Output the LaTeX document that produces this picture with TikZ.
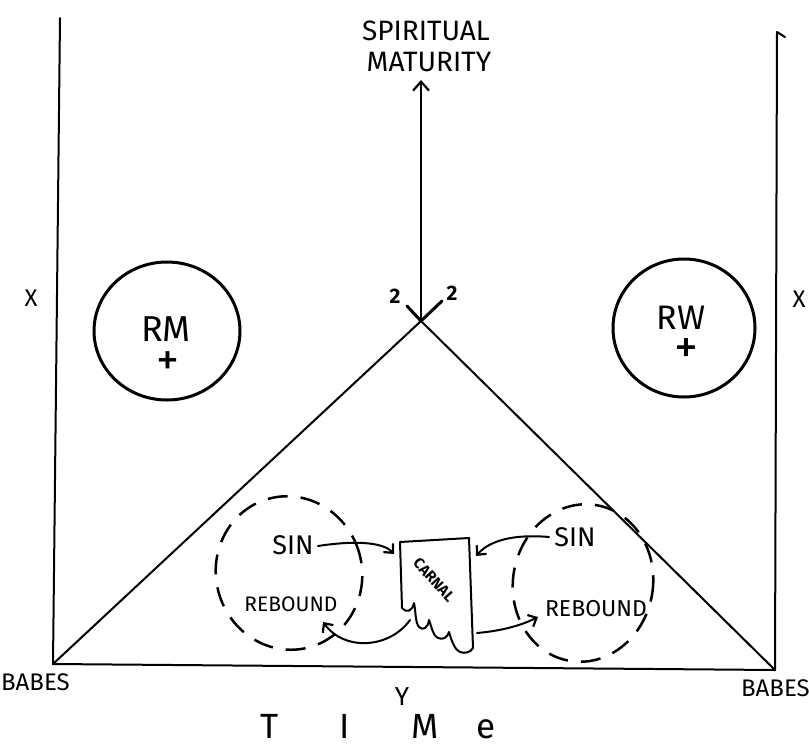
\documentclass[tikz,border=0pt]{standalone}
\usepackage{fontspec}
\setmainfont{Fira Sans}
\usetikzlibrary{arrows.meta,shapes.geometric}
\newcommand{\fs}[1]{\fontsize{#1}{#1}\selectfont}
\begin{document}
\begin{tikzpicture}[x=1pt,y=-1pt,
  ink/.style={line width=2pt,black,line cap=round,line join=round},
  heavyink/.style={line width=3pt,black,line cap=round,line join=round},
  ring/.style={draw,ellipse,line width=3pt,inner sep=0pt},
  dashring/.style={draw,ellipse,line width=2.5pt,inner sep=0pt,dash pattern=on 20pt off 13pt},
  tip/.style={-{Straight Barb[length=7pt,width=13pt,line width=2.2pt]}},
  lbl/.style={inner sep=0pt,text=black}
]
\useasboundingbox (0,0) rectangle (809,750);
\clip (0,0) rectangle (809,750);
\fill[white] (0,0) rectangle (809,750);

% frame verticals
\coordinate (lt) at (60,18);
\coordinate (lb) at (53,664);
\coordinate (rt) at (777,32);
\coordinate (rf) at (785,37);
\coordinate (rb) at (775,670);
\draw[ink] (lt) -- (lb);
\draw[ink] (rf) -- (rt) -- (rb);

% triangle
\coordinate (apex) at (421,321);
\draw[ink] (lb) -- (apex) -- (rb);
\draw[ink] (lb) -- (rb);

% vertical arrow
\coordinate (top) at (421,80);
\draw[ink,-{Straight Barb[length=9pt,width=16pt,line width=2.2pt]}] (apex) -- (top);
\node[lbl,font=\fs{28}] (spir) at (426,31) {SPIRITUAL};
\node[lbl,font=\fs{28}] (mat) at (429,62) {MATURITY};

% ticks at apex
\coordinate (tl) at (407,306);
\coordinate (tr) at (442,301);
\draw[heavyink] (tl) -- (apex) -- (tr);
\node[lbl,font=\bfseries\fs{21}] (twol) at (395,296) {2};
\node[lbl,font=\bfseries\fs{21}] (twor) at (452,293) {2};

% X labels
\node[lbl,font=\fs{24}] (xl) at (31,298) {X};
\node[lbl,font=\fs{24}] (xr) at (799,299) {X};

% RM / RW circles
\node[ring,minimum width=146pt,minimum height=138pt] (rm) at (167,331) {};
\node[lbl,font=\fs{36}] (rmt) at (166,329) {RM};
\node[lbl,font=\fs{46}] (rmp) at (168,364) {+};
\node[ring,minimum width=142pt,minimum height=138pt] (rw) at (684,328) {};
\node[lbl,font=\fs{34}] (rwt) at (681,318) {RW};
\node[lbl,font=\fs{48}] (rwp) at (686,351) {+};

% dashed rings
\node[dashring,minimum width=146pt,minimum height=154pt,rotate=15] (dl) at (289,573) {};
\node[dashring,minimum width=140pt,minimum height=158pt,rotate=-10] (dr) at (583,583) {};

% texts in rings
\node[lbl,font=\fs{27}] (sinl) at (293,545) {SIN};
\node[lbl,font=\fs{21}] (rebl) at (291,604) {REBOUND};
\node[lbl,font=\fs{27}] (sinr) at (575,537) {SIN};
\node[lbl,font=\fs{23}] (rebr) at (596,609) {REBOUND};

% carnal box
\draw[ink] (402,608)
  .. controls (406,613) and (412,612) .. (414,603)
  .. controls (416,612) and (415,622) .. (419,627)
  .. controls (423,631) and (428,628) .. (429,620)
  .. controls (432,628) and (433,636) .. (438,638)
  .. controls (443,640) and (447,638) .. (449,632)
  .. controls (452,642) and (455,650) .. (460,652)
  .. controls (465,654) and (471,652) .. (473,648)
  -- (469,538) -- (400,542) -- cycle;
\node[lbl,font=\bfseries\fs{15},rotate=-48] (carnal) at (434,580) {CARNAL};

% arrows
\coordinate (c1) at (394,554);
\coordinate (c2) at (476,556);
\coordinate (c3) at (410,620);
\coordinate (c4) at (323,622);
\coordinate (c5) at (477,633);
\coordinate (c6) at (538,617);
\coordinate (s1) at (318,546);
\coordinate (s2) at (549,537);
\draw[ink,tip] (s1) .. controls (350,541) and (382,541) .. (c1);
\draw[ink,tip] (s2) .. controls (515,534) and (490,540) .. (c2);
\draw[ink,tip] (c3) .. controls (390,648) and (345,652) .. (c4);
\draw[ink,tip] (c5) .. controls (500,631) and (520,626) .. (c6);

% base labels
\node[lbl,font=\fs{24},anchor=west] (babl) at (1,682) {BABES};
\node[lbl,font=\fs{24},anchor=west] (babr) at (741,688) {BABES};
\node[lbl,font=\fs{26}] (yl) at (402,697) {Y};
\node[lbl,font=\fs{35}] (tT) at (270,726) {T};
\node[lbl,font=\fs{35}] (tI) at (345,726) {I};
\node[lbl,font=\fs{35}] (tM) at (425,726) {M};
\node[lbl,font=\fs{35}] (te) at (486,729) {e};
\end{tikzpicture}
\end{document}
